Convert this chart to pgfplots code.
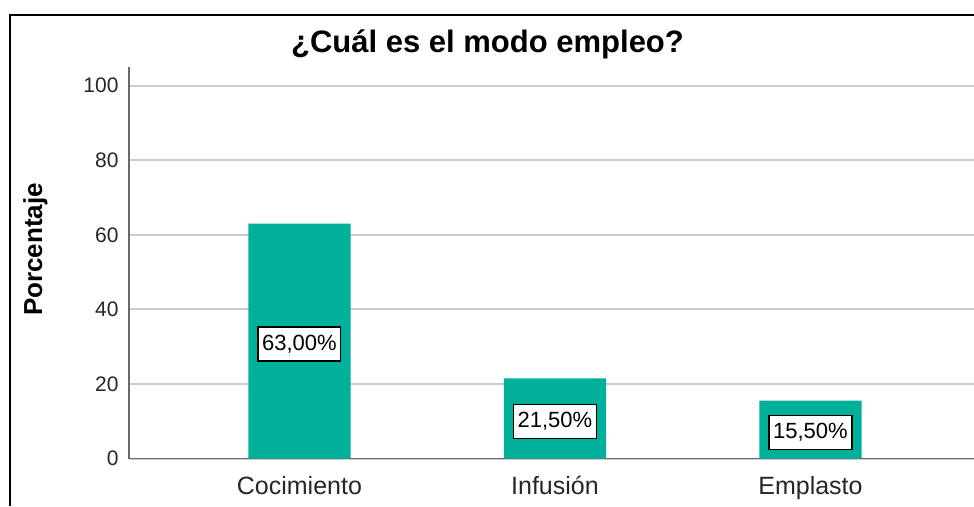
\documentclass[border=0pt]{standalone}
\usepackage{fontspec}
\setmainfont{Liberation Sans}
\usepackage{pgfplots}
\pgfplotsset{compat=1.18}
\definecolor{barteal}{RGB}{0,176,155}
\definecolor{gridgrey}{RGB}{205,205,205}
\definecolor{axisgrey}{RGB}{105,105,105}
\begin{document}
\begin{tikzpicture}
\path[use as bounding box] (0,0) rectangle (974pt,506pt);
\draw[line width=2pt] (10pt,0pt) -- (10pt,491pt) -- (974pt,491pt);
\node[anchor=base, font=\fontsize{31}{36}\selectfont\bfseries] at (487.5pt,453pt) {¿Cuál es el modo empleo?};
\node[anchor=base, rotate=90, font=\fontsize{26}{30}\selectfont\bfseries] at (42pt,256.5pt) {Porcentaje};
\begin{axis}[
  at={(129pt,47.5pt)}, anchor=south west,
  scale only axis, width=845pt, height=391.5pt,
  xmin=-0.667, xmax=2.640, ymin=0, ymax=105,
  ybar, bar width=0.4, bar shift=0pt,
  axis lines*=left,
  axis line style={draw=axisgrey, line width=1.5pt, -},
  xtick={0,1,2}, xticklabels={Cocimiento,Infusión,Emplasto},
  ytick={0,20,40,60,80,100},
  major tick length=0pt,
  ymajorgrids, grid style={draw=gridgrey, line width=2pt},
  /pgf/number format/assume math mode=true,
  yticklabel style={font=\fontsize{21}{25}\selectfont, text=black!85, xshift=-7pt},
  xticklabel style={font=\fontsize{25}{30}\selectfont, text=black!85, yshift=-14pt},
  point meta=explicit symbolic,
  visualization depends on={y \as \rawy},
  nodes near coords,
  every node near coord/.append style={
    shift={(axis direction cs:0,-\rawy/2)}, anchor=center, yshift=-3pt,
    draw=black, line width=1.5pt, fill=white,
    font=\fontsize{22}{26}\selectfont,
    text height=16pt, text depth=4pt, inner xsep=4pt, inner ysep=7pt},
]
\addplot[fill=barteal, draw=none] coordinates {
  (0,63) [63,00\%]
  (1,21.5) [21,50\%]
  (2,15.5) [15,50\%]
};
\end{axis}
\end{tikzpicture}
\end{document}
